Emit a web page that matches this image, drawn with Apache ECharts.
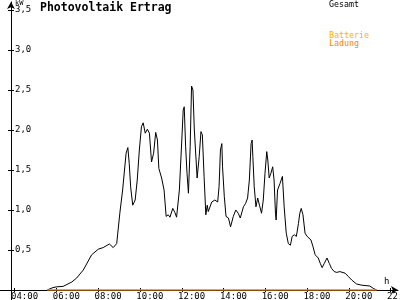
<!DOCTYPE html>
<html><head><meta charset="utf-8">
<script src="https://cdn.jsdelivr.net/npm/echarts@6/dist/echarts.min.js"></script>
<style>html,body{margin:0;padding:0;background:#fff}#c{width:400px;height:300px}</style>
</head><body><div id="c"></div>
<script>
const times = ["05:33","05:50","06:01","06:19","06:44","06:58","07:17","07:41","08:00","08:14",
"08:32","08:43","08:53","09:02","09:10","09:20","09:25","09:29","09:33","09:39",
"09:46","09:52","09:58","10:04","10:09","10:15","10:21","10:27","10:33","10:39",
"10:45","10:50","10:54","11:02","11:09","11:15","11:21","11:26","11:34","11:40",
"11:45","11:53","12:00","12:04","12:07","12:11","12:15","12:19","12:24","12:28",
"12:32","12:36","12:41","12:44","12:50","12:55","12:59","13:04","13:09","13:13",
"13:16","13:21","13:26","13:35","13:43","13:47","13:51","13:55","13:57","14:02",
"14:07","14:14","14:20","14:28","14:35","14:42","14:48","14:57","15:03","15:09",
"15:14","15:19","15:22","15:24","15:28","15:33","15:38","15:43","15:49","15:54",
"15:59","16:04","16:07","16:11","16:16","16:21","16:25","16:29","16:31","16:35",
"16:42","16:49","16:54","17:00","17:06","17:12","17:17","17:23","17:29","17:35",
"17:39","17:43","17:48","17:54","18:00","18:05","18:11","18:17","18:23","18:32",
"18:38","18:43","18:49","18:57","19:04","19:10","19:18","19:25","19:34","19:49",
"19:58","20:08","20:22","20:37","21:00","21:10","21:20"];
const gesamt = [0,0.03,0.04,0.045,0.10,0.15,0.25,0.44,0.51,0.53,
0.575,0.53,0.58,0.96,1.25,1.71,1.78,1.58,1.29,1.06,
1.125,1.375,1.75,2.04,2.09,1.96,2.01,1.96,1.60,1.71,
1.97,1.875,1.52,1.40,1.25,0.92,0.94,0.91,1.02,0.97,
0.91,1.25,1.875,2.25,2.29,1.79,1.46,1.21,1.79,2.55,
2.50,2.0,1.625,1.40,1.67,1.98,1.94,1.42,0.94,1.06,
0.98,1.0,1.10,1.125,1.10,1.29,1.75,1.83,1.54,1.17,
0.92,0.90,0.79,0.92,1.0,0.96,0.90,1.04,1.08,1.15,
1.375,1.83,1.875,1.67,1.29,1.04,1.15,1.06,0.96,1.125,
1.46,1.73,1.625,1.40,1.46,1.54,1.375,0.96,0.875,1.25,
1.33,1.42,1.04,0.71,0.58,0.56,0.67,0.69,0.67,0.83,
0.96,1.02,0.94,0.71,0.67,0.675,0.625,0.54,0.44,0.40,
0.33,0.28,0.33,0.40,0.33,0.27,0.23,0.22,0.23,0.21,
0.17,0.125,0.075,0.06,0.05,0.02,0];
const batterieTimes = ["05:33","21:20"];
const batterieLadung = [0,0];
const xTicks = [4,6,8,10,12,14,16,18,20,22];
const yTicks = [0.5,1,1.5,2,2.5,3,3.5];

const MONO = "'DejaVu Sans Mono', monospace";
function toH(t){const p=t.split(':').map(Number);return p[0]+p[1]/60;}
function pad(n){return (n<10?'0':'')+n;}
const labelShift = -0.177;

const chart = echarts.init(document.getElementById('c'), null, {renderer:'canvas'});
const xBase = {
  type:'value', min:3.296, max:22.35, position:'bottom',
  splitLine:{show:false}
};
const yBase = {
  type:'value', min:0, max:3.6, position:'left', offset:-11,
  splitLine:{show:false}
};
chart.setOption({
  animation:false,
  backgroundColor:'#fff',
  grid:{left:0,right:2,top:2,bottom:10,containLabel:false,outerBoundsMode:'none'},
  title:{text:'Photovoltaik Ertrag', left:40, top:2, padding:0,
    textStyle:{fontFamily:MONO,fontWeight:'bold',fontSize:11.5,color:'#000'}},
  xAxis:[
    Object.assign({}, xBase, {
      axisLine:{onZero:false,lineStyle:{color:'#000',width:1},symbol:['none','arrow'],symbolSize:[6,7]},
      axisTick:{show:true,inside:false,length:2,customValues:xTicks,lineStyle:{color:'#000'}},
      axisLabel:{show:true,customValues:xTicks.map(v=>v+labelShift),align:'left',margin:2,
        fontFamily:MONO,fontSize:9,color:'#000',
        formatter:v=>pad(Math.round(v))+':00'}
    }),
    Object.assign({}, xBase, {
      axisLine:{onZero:false,show:false},
      axisTick:{show:true,inside:true,length:2,customValues:xTicks,lineStyle:{color:'#000'}},
      axisLabel:{show:false}
    })
  ],
  yAxis:[
    Object.assign({}, yBase, {
      axisLine:{onZero:false,lineStyle:{color:'#000',width:1},symbol:['none','arrow'],symbolSize:[6,7]},
      axisTick:{show:true,inside:false,length:3,customValues:yTicks,lineStyle:{color:'#000'}},
      axisLabel:{show:true,inside:true,customValues:yTicks,margin:4,
        fontFamily:MONO,fontSize:9,color:'#000',
        formatter:v=>v.toFixed(1).replace('.',',')}
    }),
    Object.assign({}, yBase, {
      axisLine:{onZero:false,show:false},
      axisTick:{show:true,inside:true,length:3,customValues:yTicks,lineStyle:{color:'#000'}},
      axisLabel:{show:false}
    })
  ],
  graphic:[
    {type:'line',shape:{x1:11.5,y1:290,x2:11.5,y2:300},style:{stroke:'#000',lineWidth:1},silent:true},
    {type:'text',left:15,top:0,style:{text:'kW',font:"7px 'DejaVu Sans Mono'",fill:'#000'}},
    {type:'text',left:384,top:277,style:{text:'h',font:"9px 'DejaVu Sans Mono'",fill:'#000'}},
    {type:'text',left:329,top:1,style:{text:'Gesamt',font:"8.3px 'DejaVu Sans Mono'",fill:'#000'}},
    {type:'text',left:329,top:32,style:{text:'Batterie',font:"8.3px 'DejaVu Sans Mono'",fill:'#FFB000'}},
    {type:'text',left:329,top:40,style:{text:'Ladung',font:"8.3px 'DejaVu Sans Mono'",fill:'#FF8000'}}
  ],
  series:[
    {name:'Gesamt',type:'line',xAxisIndex:0,yAxisIndex:0,showSymbol:false,
      data:times.map((t,i)=>[toH(t),gesamt[i]]),
      lineStyle:{color:'#000',width:1},itemStyle:{color:'#000'},z:2},
    {name:'Batterie Ladung',type:'line',xAxisIndex:0,yAxisIndex:0,showSymbol:false,
      data:batterieTimes.map((t,i)=>[toH(t),batterieLadung[i]]),
      lineStyle:{color:'#FF8000',width:1.5},itemStyle:{color:'#FF8000'},z:3}
  ]
});
</script></body></html>
